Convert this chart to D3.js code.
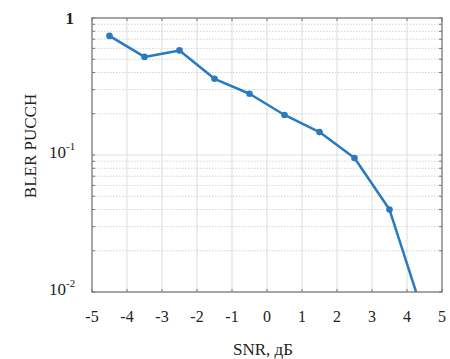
<!DOCTYPE html>
<html><head><meta charset="utf-8">
<script src="https://cdn.jsdelivr.net/npm/d3@7"></script>
<style>body{margin:0;background:#fff}</style>
</head><body><svg id="c" width="450" height="359"></svg>
<script>
const snr = [-4.5, -3.5, -2.5, -1.5, -0.5, 0.5, 1.5, 2.5, 3.5, 4.26];
const bler = [0.74, 0.52, 0.58, 0.36, 0.28, 0.196, 0.147, 0.095, 0.040, 0.01];
const markerCount = 9;
const xTicks = [-5,-4,-3,-2,-1,0,1,2,3,4,5];
const yTicks = [1, 0.1, 0.01];
const yTickLabels = [["1",""],["10","-1"],["10","-2"]];

const svg = d3.select("#c");
const L=92,R=442,T=18,B=292;
const x = d3.scaleLinear().domain([-5,5]).range([L,R]);
const y = d3.scaleLog().domain([0.01,1]).range([B,T]);
const font = "'Liberation Serif','Times New Roman',serif";

const minors=[];
for (let e=-2;e<0;e++) for (let m=2;m<=9;m++) minors.push(m*Math.pow(10,e));

const g = svg.append("g");
g.selectAll(".vg").data(xTicks.slice(1,-1)).join("line")
 .attr("x1",d=>x(d)).attr("x2",d=>x(d)).attr("y1",T).attr("y2",B)
 .attr("stroke","#e2e2e2").attr("stroke-width",1.2);
g.selectAll(".mg").data(minors).join("line")
 .attr("x1",L).attr("x2",R).attr("y1",d=>y(d)).attr("y2",d=>y(d))
 .attr("stroke","#d4d4d4").attr("stroke-width",1).attr("stroke-dasharray","1.5,1.5");
g.selectAll(".hg").data([0.1]).join("line")
 .attr("x1",L).attr("x2",R).attr("y1",d=>y(d)).attr("y2",d=>y(d))
 .attr("stroke","#e2e2e2").attr("stroke-width",1.2);

const tk="#777";
g.selectAll(".bt").data(xTicks).join("line")
 .attr("x1",d=>x(d)).attr("x2",d=>x(d)).attr("y1",B).attr("y2",B-3).attr("stroke",tk);
g.selectAll(".tt").data(xTicks).join("line")
 .attr("x1",d=>x(d)).attr("x2",d=>x(d)).attr("y1",T).attr("y2",T+3).attr("stroke",tk);
g.selectAll(".lt").data(minors.concat(yTicks)).join("line")
 .attr("x1",L).attr("x2",L+3).attr("y1",d=>y(d)).attr("y2",d=>y(d)).attr("stroke",tk);
g.selectAll(".rt").data(minors.concat(yTicks)).join("line")
 .attr("x1",R).attr("x2",R-3).attr("y1",d=>y(d)).attr("y2",d=>y(d)).attr("stroke",tk);

g.append("rect").attr("x",L).attr("y",T).attr("width",R-L).attr("height",B-T)
 .attr("fill","none").attr("stroke","#777").attr("stroke-width",1.3);

const pts = snr.map((s,i)=>[s,bler[i]]);
svg.append("clipPath").attr("id","cp").append("rect")
 .attr("x",L).attr("y",T).attr("width",R-L).attr("height",B-T);
svg.append("path").datum(pts)
 .attr("d",d3.line().x(d=>x(d[0])).y(d=>y(d[1])))
 .attr("fill","none").attr("stroke","#2a7ac0").attr("stroke-width",2.5)
 .attr("stroke-linejoin","round").attr("clip-path","url(#cp)");
svg.selectAll(".pt").data(pts.slice(0,markerCount)).join("circle")
 .attr("cx",d=>x(d[0])).attr("cy",d=>y(d[1])).attr("r",3.3).attr("fill","#2a7ac0");

svg.selectAll(".xl").data(xTicks).join("text")
 .attr("x",d=>x(d)).attr("y",322).attr("text-anchor","middle")
 .attr("font-family",font).attr("font-size",16).attr("fill","#222")
 .text(d=>d);
yTicks.forEach((v,i)=>{
  if(i===0){
    svg.append("text").attr("x",74).attr("y",y(v)+6).attr("text-anchor","end")
     .attr("font-family",font).attr("font-size",17).attr("font-weight","bold").attr("fill","#222").text("1");
  } else {
    svg.append("text").attr("x",66).attr("y",y(v)+3).attr("text-anchor","end")
     .attr("font-family",font).attr("font-size",17).attr("fill","#222").text(yTickLabels[i][0]);
    svg.append("text").attr("x",66).attr("y",y(v)-5).attr("font-family",font)
     .attr("font-size",11).attr("fill","#222").text(yTickLabels[i][1]);
  }
});
svg.append("text").attr("x",263).attr("y",355).attr("text-anchor","middle")
 .attr("font-family",font).attr("font-size",17).attr("fill","#222").text("SNR, дБ");
svg.append("text").attr("transform","translate(36,146) rotate(-90)").attr("text-anchor","middle")
 .attr("font-family",font).attr("font-size",17).attr("fill","#222").text("BLER PUCCH");
</script></body></html>
